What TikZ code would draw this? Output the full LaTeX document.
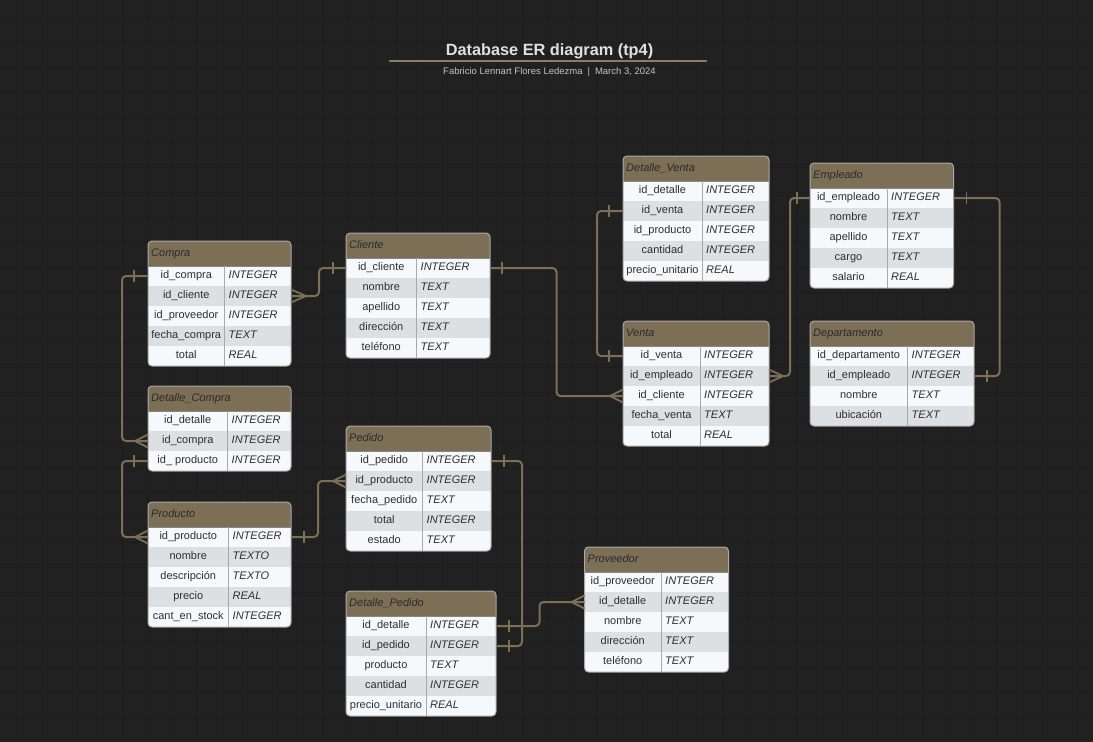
\documentclass[tikz,border=0pt]{standalone}
\usepackage{fontspec}
\setmainfont{Liberation Sans}
\usetikzlibrary{calc}
\definecolor{bg}{HTML}{212121}
\definecolor{gridc}{HTML}{1D1D1D}
\definecolor{brownc}{HTML}{7D6E56}
\definecolor{rowA}{HTML}{F6F9FC}
\definecolor{rowB}{HTML}{DDE0E3}
\definecolor{edge}{HTML}{A9A9A9}
\definecolor{txt}{HTML}{2E2E2E}
\definecolor{hdrtxt}{HTML}{2A2A2A}
\definecolor{titlec}{HTML}{E0E0E0}
\definecolor{subc}{HTML}{C2C2C2}
\tikzset{
  hdr/.style={fill=brownc, draw=none, minimum height=25, inner sep=0, outer sep=0, anchor=north west},
  rowbox/.style={draw=none, minimum height=20, inner sep=0, outer sep=0, anchor=north west},
  nametext/.style={font=\fontsize{11}{13}\selectfont, text=txt, inner sep=0, anchor=base},
  typetext/.style={font=\fontsize{11}{13}\selectfont\itshape, text=txt, inner sep=0, anchor=base west},
  hdrtext/.style={font=\fontsize{11}{13}\selectfont\itshape, text=hdrtxt, inner sep=0, anchor=base west},
  conn/.style={draw=brownc, line width=2, rounded corners=4},
  tickmark/.style={draw=brownc, line width=1.8},
  crow/.style={draw=brownc, line width=1.8},
}
% #1 id, #2 left, #3 top, #4 width, #5 divider x, #6 title, #7 number of rows, #8 rows
\newcommand\ertable[8]{%
  \pgfmathsetmacro\tbot{#3+25+20*#7}
  \begin{scope}
    \clip[rounded corners=4] (#2,#3) rectangle (#2+#4,\tbot);
    \node[hdr, minimum width=#4] (#1-h) at (#2,#3) {};
    \foreach \nm/\ty [count=\i] in {#8} {
      \pgfmathsetmacro\yy{#3+25+20*(\i-1)}
      \ifodd\i\def\rc{rowA}\else\def\rc{rowB}\fi
      \node[rowbox, fill=\rc, minimum width=#4] (#1-\i) at (#2,\yy) {};
    }
  \end{scope}
  \draw[edge!80!black, line width=0.6] (#2,#3+25) -- (#2+#4,#3+25);
  \draw[edge, line width=1] (#5,#3+25) -- (#5,\tbot);
  \draw[edge, line width=1, rounded corners=4] (#2,#3) rectangle (#2+#4,\tbot);
  \node[hdrtext] (#1-title) at (#2+3,#3+15.5) {#6};
  \foreach \nm/\ty [count=\i] in {#8} {
    \pgfmathsetmacro\yy{#3+25+20*(\i-1)+12.8}
    \node[nametext] (#1-\i-n) at ({(#2+#5)/2},\yy) {\nm};
    \node[typetext] (#1-\i-t) at (#5+4,\yy) {\ty};
  }
}
% bar mark: #1 anchor, #2 x offset
\newcommand\erbar[2]{\draw[tickmark] ($(#1)+(#2,-6)$) -- ($(#1)+(#2,6)$);}
% crow's foot: #1 anchor, #2 apex x offset
\newcommand\ercrow[2]{%
  \draw[crow] ($(#1)+(#2,0)$) -- ($(#1)+(0,-6.5)$);
  \draw[crow] ($(#1)+(#2,0)$) -- ($(#1)+(0,6.5)$);}
\begin{document}
\begin{tikzpicture}[x=1pt,y=-1pt]
\useasboundingbox (0,0) rectangle (1093,742);
\fill[bg] (0,0) rectangle (1093,742);
\foreach \gx in {22,47,...,1093} \draw[gridc, line width=0.6] (\gx,0) -- (\gx,742);
\foreach \gy in {17.5,42.5,...,742} \draw[gridc, line width=0.6] (0,\gy) -- (1093,\gy);

% title
\node[font=\bfseries\fontsize{16.3}{18}\selectfont, text=titlec, anchor=base, inner sep=0] (title) at (549.5,55.5) {Database ER diagram (tp4)};
\draw[brownc!90!white, line width=2] (389,61) -- (707,61);
\node[font=\fontsize{9.5}{11}\selectfont, text=subc, anchor=base, inner sep=0] (subtitle) at (549.5,74.3) {Fabricio Lennart Flores Ledezma\hspace{5pt}|\hspace{5pt}March 3, 2024};

% tables
\ertable{compra}{148}{241}{143}{224.5}{Compra}{5}{id\_compra/INTEGER, id\_cliente/INTEGER, id\_proveedor/INTEGER, fecha\_compra/TEXT, total/REAL}
\ertable{dcompra}{148}{386}{143}{227.5}{Detalle\_Compra}{3}{id\_detalle/INTEGER, id\_compra/INTEGER, id\_ producto/INTEGER}
\ertable{producto}{148}{502}{143}{228.5}{Producto}{5}{id\_producto/INTEGER, nombre/TEXTO, descripción/TEXTO, precio/REAL, cant\_en\_stock/INTEGER}
\ertable{cliente}{346}{233}{144}{416.5}{Cliente}{5}{id\_cliente/INTEGER, nombre/TEXT, apellido/TEXT, dirección/TEXT, teléfono/TEXT}
\ertable{pedido}{346}{426}{145}{422.5}{Pedido}{5}{id\_pedido/INTEGER, id\_producto/INTEGER, fecha\_pedido/TEXT, total/INTEGER, estado/TEXT}
\ertable{dpedido}{346}{591}{150}{426}{Detalle\_Pedido}{5}{id\_detalle/INTEGER, id\_pedido/INTEGER, producto/TEXT, cantidad/INTEGER, precio\_unitario/REAL}
\ertable{proveedor}{584.5}{547}{144}{661}{Proveedor}{5}{id\_proveedor/INTEGER, id\_detalle/INTEGER, nombre/TEXT, dirección/TEXT, teléfono/TEXT}
\ertable{dventa}{623}{156}{146}{702}{Detalle\_Venta}{5}{id\_detalle/INTEGER, id\_venta/INTEGER, id\_producto/INTEGER, cantidad/INTEGER, precio\_unitario/REAL}
\ertable{venta}{623}{321}{146}{700}{Venta}{5}{id\_venta/INTEGER, id\_empleado/INTEGER, id\_cliente/INTEGER, fecha\_venta/TEXT, total/REAL}
\ertable{empleado}{810}{163}{143.5}{887}{Empleado}{5}{id\_empleado/INTEGER, nombre/TEXT, apellido/TEXT, cargo/TEXT, salario/REAL}
\ertable{depto}{810}{321}{164}{907.5}{Departamento}{4}{id\_departamento/INTEGER, id\_empleado/INTEGER, nombre/TEXT, ubicación/TEXT}

% connectors
\draw[conn] (compra-1.west) -- ++(-26,0) |- (dcompra-2.west);
\erbar{compra-1.west}{-14}
\ercrow{dcompra-2.west}{-13}

\draw[conn] (compra-2.east) -- ++(28,0) |- (cliente-1.west);
\ercrow{compra-2.east}{15}
\erbar{cliente-1.west}{-13}

\draw[conn] (cliente-1.east) -- ++(66.5,0) |- (venta-3.west);
\erbar{cliente-1.east}{12}
\ercrow{venta-3.west}{-13}

\draw[conn] (dventa-2.west) -- ++(-26,0) |- (venta-1.west);
\erbar{dventa-2.west}{-14}
\erbar{venta-1.west}{-14}

\draw[conn] (venta-2.east) -- ++(21,0) |- (empleado-1.west);
\ercrow{venta-2.east}{14}
\erbar{empleado-1.west}{-13}

\draw[conn] (empleado-1.east) -- ++(46,0) |- (depto-2.east);
\erbar{empleado-1.east}{13}
\erbar{depto-2.east}{13}

\draw[conn] (dcompra-3.west) -- ++(-26,0) |- (producto-1.west);
\erbar{dcompra-3.west}{-14}
\ercrow{producto-1.west}{-13}

\draw[conn] (producto-1.east) -- ++(27,0) |- (pedido-2.west);
\erbar{producto-1.east}{13}
\ercrow{pedido-2.west}{-13}

\draw[conn] (pedido-1.east) -- ++(31,0) |- (dpedido-2.east);
\erbar{pedido-1.east}{13}
\erbar{dpedido-2.east}{13}

\draw[conn] (dpedido-1.east) -- ++(43.5,0) |- (proveedor-2.west);
\erbar{dpedido-1.east}{13}
\ercrow{proveedor-2.west}{-13}
\end{tikzpicture}
\end{document}
